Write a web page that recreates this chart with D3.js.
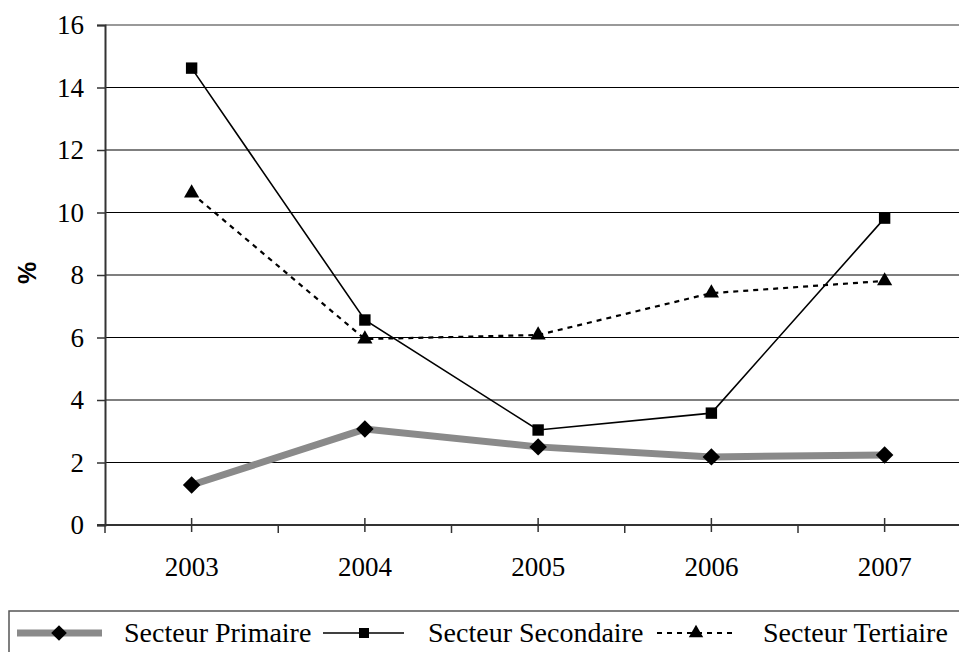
<!DOCTYPE html>
<html><head><meta charset="utf-8">
<script src="https://cdn.jsdelivr.net/npm/d3@7"></script>
<style>body{margin:0;background:#fff}svg{display:block}</style>
</head><body><svg id="c" width="959" height="652"></svg>
<script>
const categories = ["2003","2004","2005","2006","2007"];
const primaire = [1.28, 3.07, 2.50, 2.18, 2.24];
const secondaire = [14.62, 6.56, 3.04, 3.58, 9.82];
const tertiaire = [10.62, 5.95, 6.08, 7.42, 7.81];
const yTicks = [0,2,4,6,8,10,12,14,16];
const seriesNames = ["Secteur Primaire","Secteur Secondaire","Secteur Tertiaire"];

(function(){
const svg = d3.select("#c");
const font = "'Liberation Serif','Times New Roman',serif";
const pLeft = 105, pTop = 25, pBottom = 525, bandW = 173.25;
const x = d3.scaleBand().domain(categories).range([pLeft, pLeft + bandW*categories.length]);
const y = d3.scaleLinear().domain([0,16]).range([pBottom, pTop]);
const cx = d => x(d) + x.bandwidth()/2;

// gridlines
svg.append("g").selectAll("line").data(yTicks.filter(t=>t>0 && t<16)).join("line")
  .attr("x1", pLeft).attr("x2", 959).attr("y1", d=>y(d)).attr("y2", d=>y(d))
  .attr("stroke","#000").attr("stroke-width",1.2);
svg.append("line").attr("x1",pLeft).attr("x2",959).attr("y1",y(16)).attr("y2",y(16))
  .attr("stroke","#999").attr("stroke-width",2);

// y axis
const ya = svg.append("g").attr("transform",`translate(${pLeft},0)`)
  .call(d3.axisLeft(y).tickValues(yTicks).tickSize(8).tickPadding(13));
ya.select(".domain").attr("stroke","#333").attr("stroke-width",2);
ya.selectAll(".tick line").attr("stroke","#333").attr("stroke-width",1.5);
ya.selectAll("text").attr("font-family",font).attr("font-size",27).attr("fill","#000");

// x axis
svg.append("line").attr("x1",pLeft-8).attr("x2",959).attr("y1",pBottom).attr("y2",pBottom)
  .attr("stroke","#333").attr("stroke-width",2);
svg.append("g").selectAll("line").data(categories).join("line")
  .attr("x1",cx).attr("x2",cx).attr("y1",pBottom-7).attr("y2",pBottom+7)
  .attr("stroke","#333").attr("stroke-width",1.5);
svg.append("g").selectAll("line").data(categories).join("line")
  .attr("x1",d=>x(d)).attr("x2",d=>x(d)).attr("y1",pBottom).attr("y2",pBottom+8)
  .attr("stroke","#333").attr("stroke-width",1.5);
svg.append("g").selectAll("text").data(categories).join("text")
  .attr("x",cx).attr("y",576).attr("text-anchor","middle")
  .attr("font-family",font).attr("font-size",27).text(d=>d);

// y label
svg.append("text").attr("transform","translate(36,273) rotate(-90)")
  .attr("text-anchor","middle").attr("font-family","'Liberation Sans',Arial,sans-serif")
  .attr("font-weight","bold").attr("font-size",25).text("%");

const line = d3.line().x((d,i)=>cx(categories[i])).y(d=>y(d));

svg.append("path").datum(primaire).attr("d",line).attr("fill","none")
  .attr("stroke","#8a8a8a").attr("stroke-width",7);
svg.append("path").datum(tertiaire).attr("d",line).attr("fill","none")
  .attr("stroke","#000").attr("stroke-width",2.2).attr("stroke-dasharray","5,5");
svg.append("path").datum(secondaire).attr("d",line).attr("fill","none")
  .attr("stroke","#000").attr("stroke-width",1.6);

const sym = (type,size) => d3.symbol().type(type).size(size)();
function markers(data,type,size){
  svg.append("g").selectAll("path").data(data).join("path")
    .attr("transform",(d,i)=>`translate(${cx(categories[i])},${y(d)})`)
    .attr("d",sym(type,size)).attr("fill","#000");
}
const diamond = {draw(ctx,size){const r=Math.sqrt(size)/1.4;ctx.moveTo(0,-r);ctx.lineTo(r,0);ctx.lineTo(0,r);ctx.lineTo(-r,0);ctx.closePath();}};
markers(primaire,diamond,150);
markers(secondaire,d3.symbolSquare,130);
markers(tertiaire,d3.symbolTriangle,100);

// legend
svg.append("rect").attr("x",9).attr("y",611).attr("width",980).attr("height",60)
  .attr("fill","none").attr("stroke","#555").attr("stroke-width",1.5);
const ly = 633;
const leg = [
  {x1:17,x2:102,mx:59,tx:124,sw:7,col:"#8a8a8a",dash:null,type:diamond,size:120},
  {x1:323,x2:404,mx:364,tx:428,sw:1.6,col:"#000",dash:null,type:d3.symbolSquare,size:100},
  {x1:657,x2:735,mx:696,tx:763,sw:2,col:"#000",dash:"5,5",type:d3.symbolTriangle,size:90}
];
leg.forEach((l,i)=>{
  svg.append("line").attr("x1",l.x1).attr("x2",l.x2).attr("y1",ly).attr("y2",ly)
    .attr("stroke",l.col).attr("stroke-width",l.sw).attr("stroke-dasharray",l.dash);
  svg.append("path").attr("transform",`translate(${l.mx},${ly})`).attr("d",sym(l.type,l.size));
  svg.append("text").attr("x",l.tx).attr("y",ly+9).attr("font-family",font)
    .attr("font-size",28).text(seriesNames[i]);
});
})();
</script></body></html>
